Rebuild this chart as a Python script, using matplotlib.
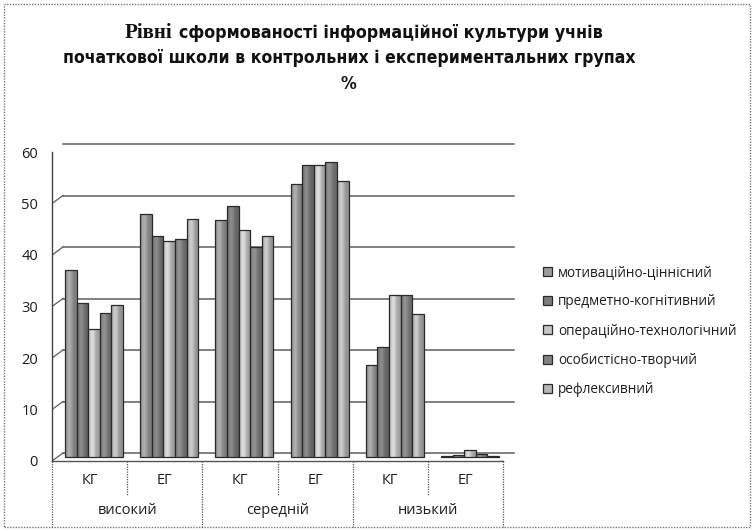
import matplotlib
matplotlib.use("Agg")
import matplotlib.pyplot as plt
import matplotlib.transforms as mtransforms
from matplotlib.patches import Patch, Rectangle
from matplotlib.lines import Line2D
from matplotlib.colors import to_rgb
from matplotlib import font_manager as fm
import numpy as np

# ---------------- data ----------------
title_line1_a = "Рівні"
title_line1_b = "сформованості інформаційної культури учнів"
title_line2 = "початкової школи в контрольних і експериментальних групах"
title_line3 = "%"

groups = ["КГ", "ЕГ", "КГ", "ЕГ", "КГ", "ЕГ"]
levels = ["високий", "середній", "низький"]

series_names = ["мотиваційно-ціннісний", "предметно-когнітивний",
                "операційно-технологічний", "особистісно-творчий",
                "рефлексивний"]
s1 = [36.3, 47.1, 46.1, 53.1, 17.8, 0.2]
s2 = [30.0, 42.9, 48.7, 56.7, 21.4, 0.4]
s3 = [24.9, 41.9, 44.1, 56.7, 31.5, 1.4]
s4 = [28.0, 42.3, 40.8, 57.2, 31.4, 0.5]
s5 = [29.5, 46.3, 43.0, 53.6, 27.8, 0.2]
series = [s1, s2, s3, s4, s5]
colors = ["#9c9c9c", "#7c7c7c", "#c6c6c6", "#838383", "#b6b6b6"]
yticks = [0, 10, 20, 30, 40, 50, 60]

# ---------------- fonts ----------------
cond = [f for f in fm.fontManager.ttflist
        if f.name == "Liberation Sans Narrow"]
if cond:
    title_font = dict(family="Liberation Sans Narrow")
else:
    dj = [f for f in fm.fontManager.ttflist
          if f.name == "DejaVu Sans" and str(f.stretch) in ("condensed", "semi-condensed")]
    if dj:
        title_font = dict(family="DejaVu Sans", stretch="condensed")
    else:
        title_font = dict(family="Liberation Sans")
sans = ["Open Sans", "DejaVu Sans"]

W, H = 755, 531
fig = plt.figure(figsize=(W / 100, H / 100), dpi=100)
fig.patch.set_facecolor("white")

def fx(px):
    return px / W

def fy(py):
    return 1 - py / H

ax_left, ax_right, ax_bot, ax_top = 52, 503, 461, 152
ax = fig.add_axes([fx(ax_left), fy(ax_bot), fx(ax_right) - fx(ax_left),
                   fy(ax_top) - fy(ax_bot)])
ax.set_xlim(0, 6)
ax.set_ylim(0, 60)
for sp in ax.spines.values():
    sp.set_visible(False)
ax.set_xticks([])
ax.set_yticks(yticks)
ax.set_yticklabels([str(v) for v in yticks], family=sans, fontsize=10.5, color="#1e1e1e")
ax.tick_params(axis="y", length=0, pad=10)
ax.patch.set_alpha(0)

def off(dx, dy):
    return ax.transData + mtransforms.ScaledTranslation(dx / 100, dy / 100, fig.dpi_scale_trans)

grid_c = "#5e5e5e"
back = off(11, 8)
for v in yticks:
    ax.plot([0, 6], [v, v], transform=back, color=grid_c, lw=1.1, clip_on=False, zorder=1)
    a = ax.transData.transform((0, v)); b = back.transform((0, v))
    ax.add_line(Line2D([a[0], b[0]], [a[1], b[1]], transform=None,
                       color=grid_c, lw=0.9, zorder=1))
    ax.add_line(Line2D([a[0] - 5, a[0]], [a[1], a[1]], transform=None,
                       color="#444", lw=0.9, zorder=2))
ax.plot([0, 6], [0, 0], color="#555", lw=1.0, clip_on=False, zorder=1)
p0 = ax.transData.transform((6, 0)); p1 = back.transform((6, 0))
ax.add_line(Line2D([p0[0], p1[0]], [p0[1], p1[1]], transform=None, color="#555", lw=0.9))
ax.plot([0, 0], [0, 60], color="#444", lw=1.0, clip_on=False, zorder=2)

# ---------------- bars ----------------
bw = 0.154
bar_tr = off(4.5, 4)
x = np.arange(6) + 0.5
prof = np.linspace(0, 1, 40)
shade = 0.80 + 0.32 * np.exp(-((prof - 0.35) / 0.28) ** 2)  # cylinder-like shading
for k, (vals, c, nm) in enumerate(zip(series, colors, series_names)):
    z = 3 + k * 0.01
    bars = ax.bar(x + (k - 2) * bw, vals, width=bw, color=c, edgecolor="none",
                  linewidth=0, zorder=z, label=nm)
    rgb = np.array(to_rgb(c))
    img = np.clip(shade[None, :, None] * rgb[None, None, :], 0, 1)
    for b in bars:
        b.set_transform(bar_tr)
        b.set_clip_on(False)
        x0 = b.get_x(); w = b.get_width(); h = b.get_height()
        im = ax.imshow(img, extent=(x0, x0 + w, 0, h), transform=bar_tr,
                       aspect="auto", interpolation="bilinear", zorder=z + 0.001)
        im.set_clip_path(b)
        ax.bar(x0 + w / 2, h, width=w, facecolor="none", edgecolor="#2a2a2a",
               linewidth=0.9, zorder=z + 0.002, transform=bar_tr, clip_on=False)
ax.set_xlim(0, 6)
ax.set_ylim(0, 60)
ax.set_aspect("auto")

# ---------------- category axis ----------------
for i, g in enumerate(groups):
    fig.text(fx(ax_left + (i + 0.5) * (ax_right - ax_left) / 6), fy(480), g,
             family=sans, fontsize=10.5, ha="center", va="center", color="#1e1e1e")
for j, lv in enumerate(levels):
    fig.text(fx(ax_left + (2 * j + 1) * (ax_right - ax_left) / 6), fy(511), lv,
             family=sans, fontsize=10.5, ha="center", va="center", color="#1e1e1e")
for i in range(7):
    xp = ax_left + i * (ax_right - ax_left) / 6
    y_end = 527 if i % 2 == 0 else 495
    fig.add_artist(Line2D([fx(xp), fx(xp)], [fy(461), fy(y_end)],
                          transform=fig.transFigure, color="#555", lw=0.9, ls=(0, (1, 1))))

# ---------------- outer border ----------------
fig.add_artist(Rectangle((fx(4), fy(527)), fx(750) - fx(4), fy(4) - fy(527),
                         transform=fig.transFigure, fill=False, ec="#777", lw=1.0,
                         ls=(0, (1, 1))))

# ---------------- title ----------------
fig.canvas.draw()
r = fig.canvas.get_renderer()

def fit(t, target_w):
    bb = t.get_window_extent(r)
    t.set_fontsize(t.get_fontsize() * target_w / bb.width)

t1a = fig.text(fx(125), fy(33), title_line1_a, family="Liberation Serif",
               weight="bold", fontsize=12, ha="left", va="center", color="#111")
t1b = fig.text(fx(179), fy(33), title_line1_b, weight="bold",
               fontsize=12, ha="left", va="center", color="#111", **title_font)
t2 = fig.text(fx(63), fy(58), title_line2, weight="bold",
              fontsize=12, ha="left", va="center", color="#111", **title_font)
t3 = fig.text(fx(348), fy(84), title_line3, weight="bold",
              fontsize=12, ha="center", va="center", color="#111", **title_font)
fit(t1a, 48)
fit(t1b, 424)
fit(t2, 570)
t3.set_fontsize(t2.get_fontsize())

# ---------------- legend ----------------
tmp = fig.text(0, 0, series_names[0], family=sans, fontsize=10)
fig.canvas.draw()
lw_ = tmp.get_window_extent(r).width
leg_fs = 10 * 155 / lw_
tmp.remove()
handles = [Patch(facecolor=c, edgecolor="#2a2a2a", lw=0.9) for c in colors]
leg = fig.legend(handles, series_names, loc="upper left",
                 bbox_to_anchor=(fx(543), fy(265)), frameon=False,
                 prop={"family": sans, "size": leg_fs},
                 handlelength=0.65, handleheight=0.65, handletextpad=0.45,
                 labelspacing=1.05, borderaxespad=0, borderpad=0)
for t in leg.get_texts():
    t.set_color("#1e1e1e")

fig.savefig("out.png", dpi=100, facecolor="white")
